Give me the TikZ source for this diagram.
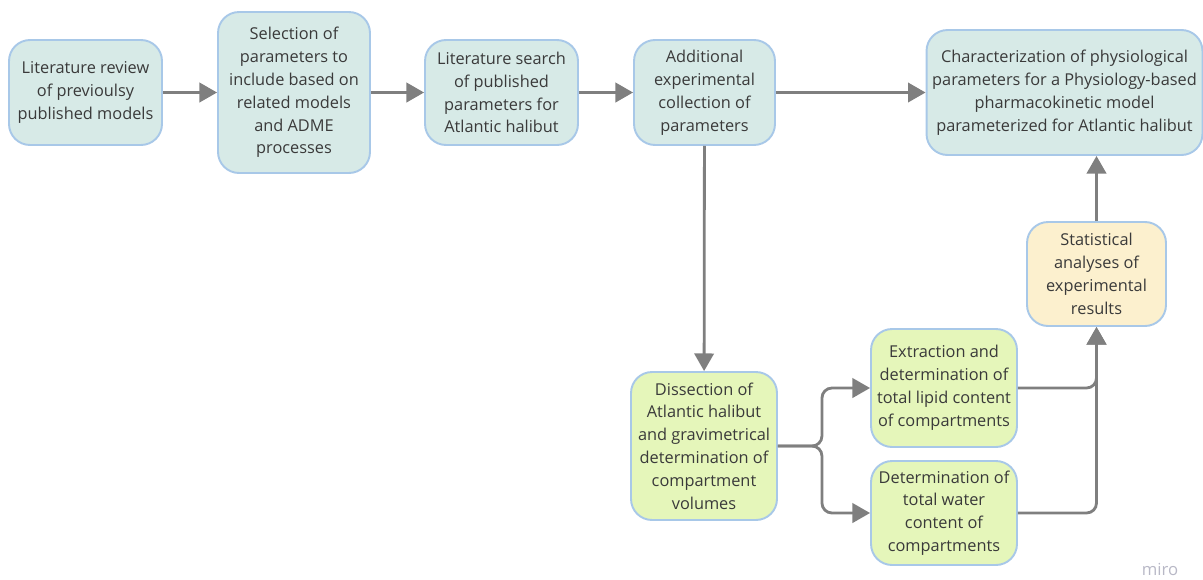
\documentclass[tikz,border=0pt]{standalone}
\usepackage{fontspec}
\setmainfont{Open Sans}
\usetikzlibrary{arrows.meta}
\definecolor{boxblue}{HTML}{D7EAE7}
\definecolor{boxgreen}{HTML}{E5F6BA}
\definecolor{boxyellow}{HTML}{FCF0CE}
\definecolor{edgeblue}{HTML}{A8C8E8}
\definecolor{arrowgray}{HTML}{7F7F7F}
\definecolor{textgray}{HTML}{3A3A3A}
\definecolor{brandgray}{HTML}{B8B8C6}
\tikzset{
  stage/.style={draw=edgeblue, line width=1.1pt, rounded corners=0.42cm,
    align=center, text=textgray, inner sep=0pt,
    font=\fontsize{9.3}{13}\selectfont},
  flow/.style={draw=arrowgray, line width=1.6pt, rounded corners=0.2cm,
    -{Triangle[length=10pt,width=11pt]}}
}
\begin{document}
\begin{tikzpicture}[x=0.02cm, y=-0.02cm]
    \useasboundingbox (0,0) rectangle (1203,579);

    % top row
    \node[stage, fill=boxblue, minimum width=3.06cm, minimum height=2.1cm] (review) at (85.5,92.5)
        {Literature review\\of previoulsy\\published models};
    \node[stage, fill=boxblue, minimum width=3.04cm, minimum height=3.22cm] (select) at (294,92.5)
        {Selection of\\parameters to\\include based on\\related models\\and ADME\\processes};
    \node[stage, fill=boxblue, minimum width=3.06cm, minimum height=2.1cm] (search) at (501.5,92.5)
        {Literature search\\of published\\parameters for\\Atlantic halibut};
    \node[stage, fill=boxblue, minimum width=2.82cm, minimum height=2.1cm] (extra) at (704.5,92.5)
        {Additional\\experimental\\collection of\\parameters};
    \node[stage, fill=boxblue, minimum width=5.52cm, minimum height=2.5cm] (charact) at (1064.5,92.5)
        {Characterization of physiological\\parameters for a Physiology-based\\pharmacokinetic model\\parameterized for Atlantic halibut};

    % lower part
    \node[stage, fill=boxyellow, minimum width=2.78cm, minimum height=2.08cm] (stats) at (1096.5,274)
        {Statistical\\analyses of\\experimental\\results};
    \node[stage, fill=boxgreen, minimum width=2.92cm, minimum height=2.96cm] (dissect) at (704,446)
        {Dissection of\\Atlantic halibut\\and gravimetrical\\determination of\\compartment\\volumes};
    \node[stage, fill=boxgreen, minimum width=2.92cm, minimum height=2.36cm] (lipid) at (944,388)
        {Extraction and\\determination of\\total lipid content\\of compartments};
    \node[stage, fill=boxgreen, minimum width=2.92cm, minimum height=2.08cm] (water) at (944,513)
        {Determination of\\total water\\content of\\compartments};

    \node[text=brandgray, font=\fontsize{9.5}{11}\selectfont] (brand) at (1160,569) {miro};

    % connectors
    \draw[flow] (review) -- (select);
    \draw[flow] (select) -- (search);
    \draw[flow] (search) -- (extra);
    \draw[flow] (extra) -- (charact);
    \draw[flow] (extra) -- (dissect);
    \draw[flow] (dissect.east) -- ++(44,0) |- (lipid.west);
    \draw[flow] (dissect.east) -- ++(44,0) |- (water.west);
    \draw[flow] (lipid.east) -| (stats.south);
    \draw[flow] (water.east) -| (stats.south);
    \draw[flow] (stats.north) -- (stats.north |- charact.south);
\end{tikzpicture}
\end{document}
